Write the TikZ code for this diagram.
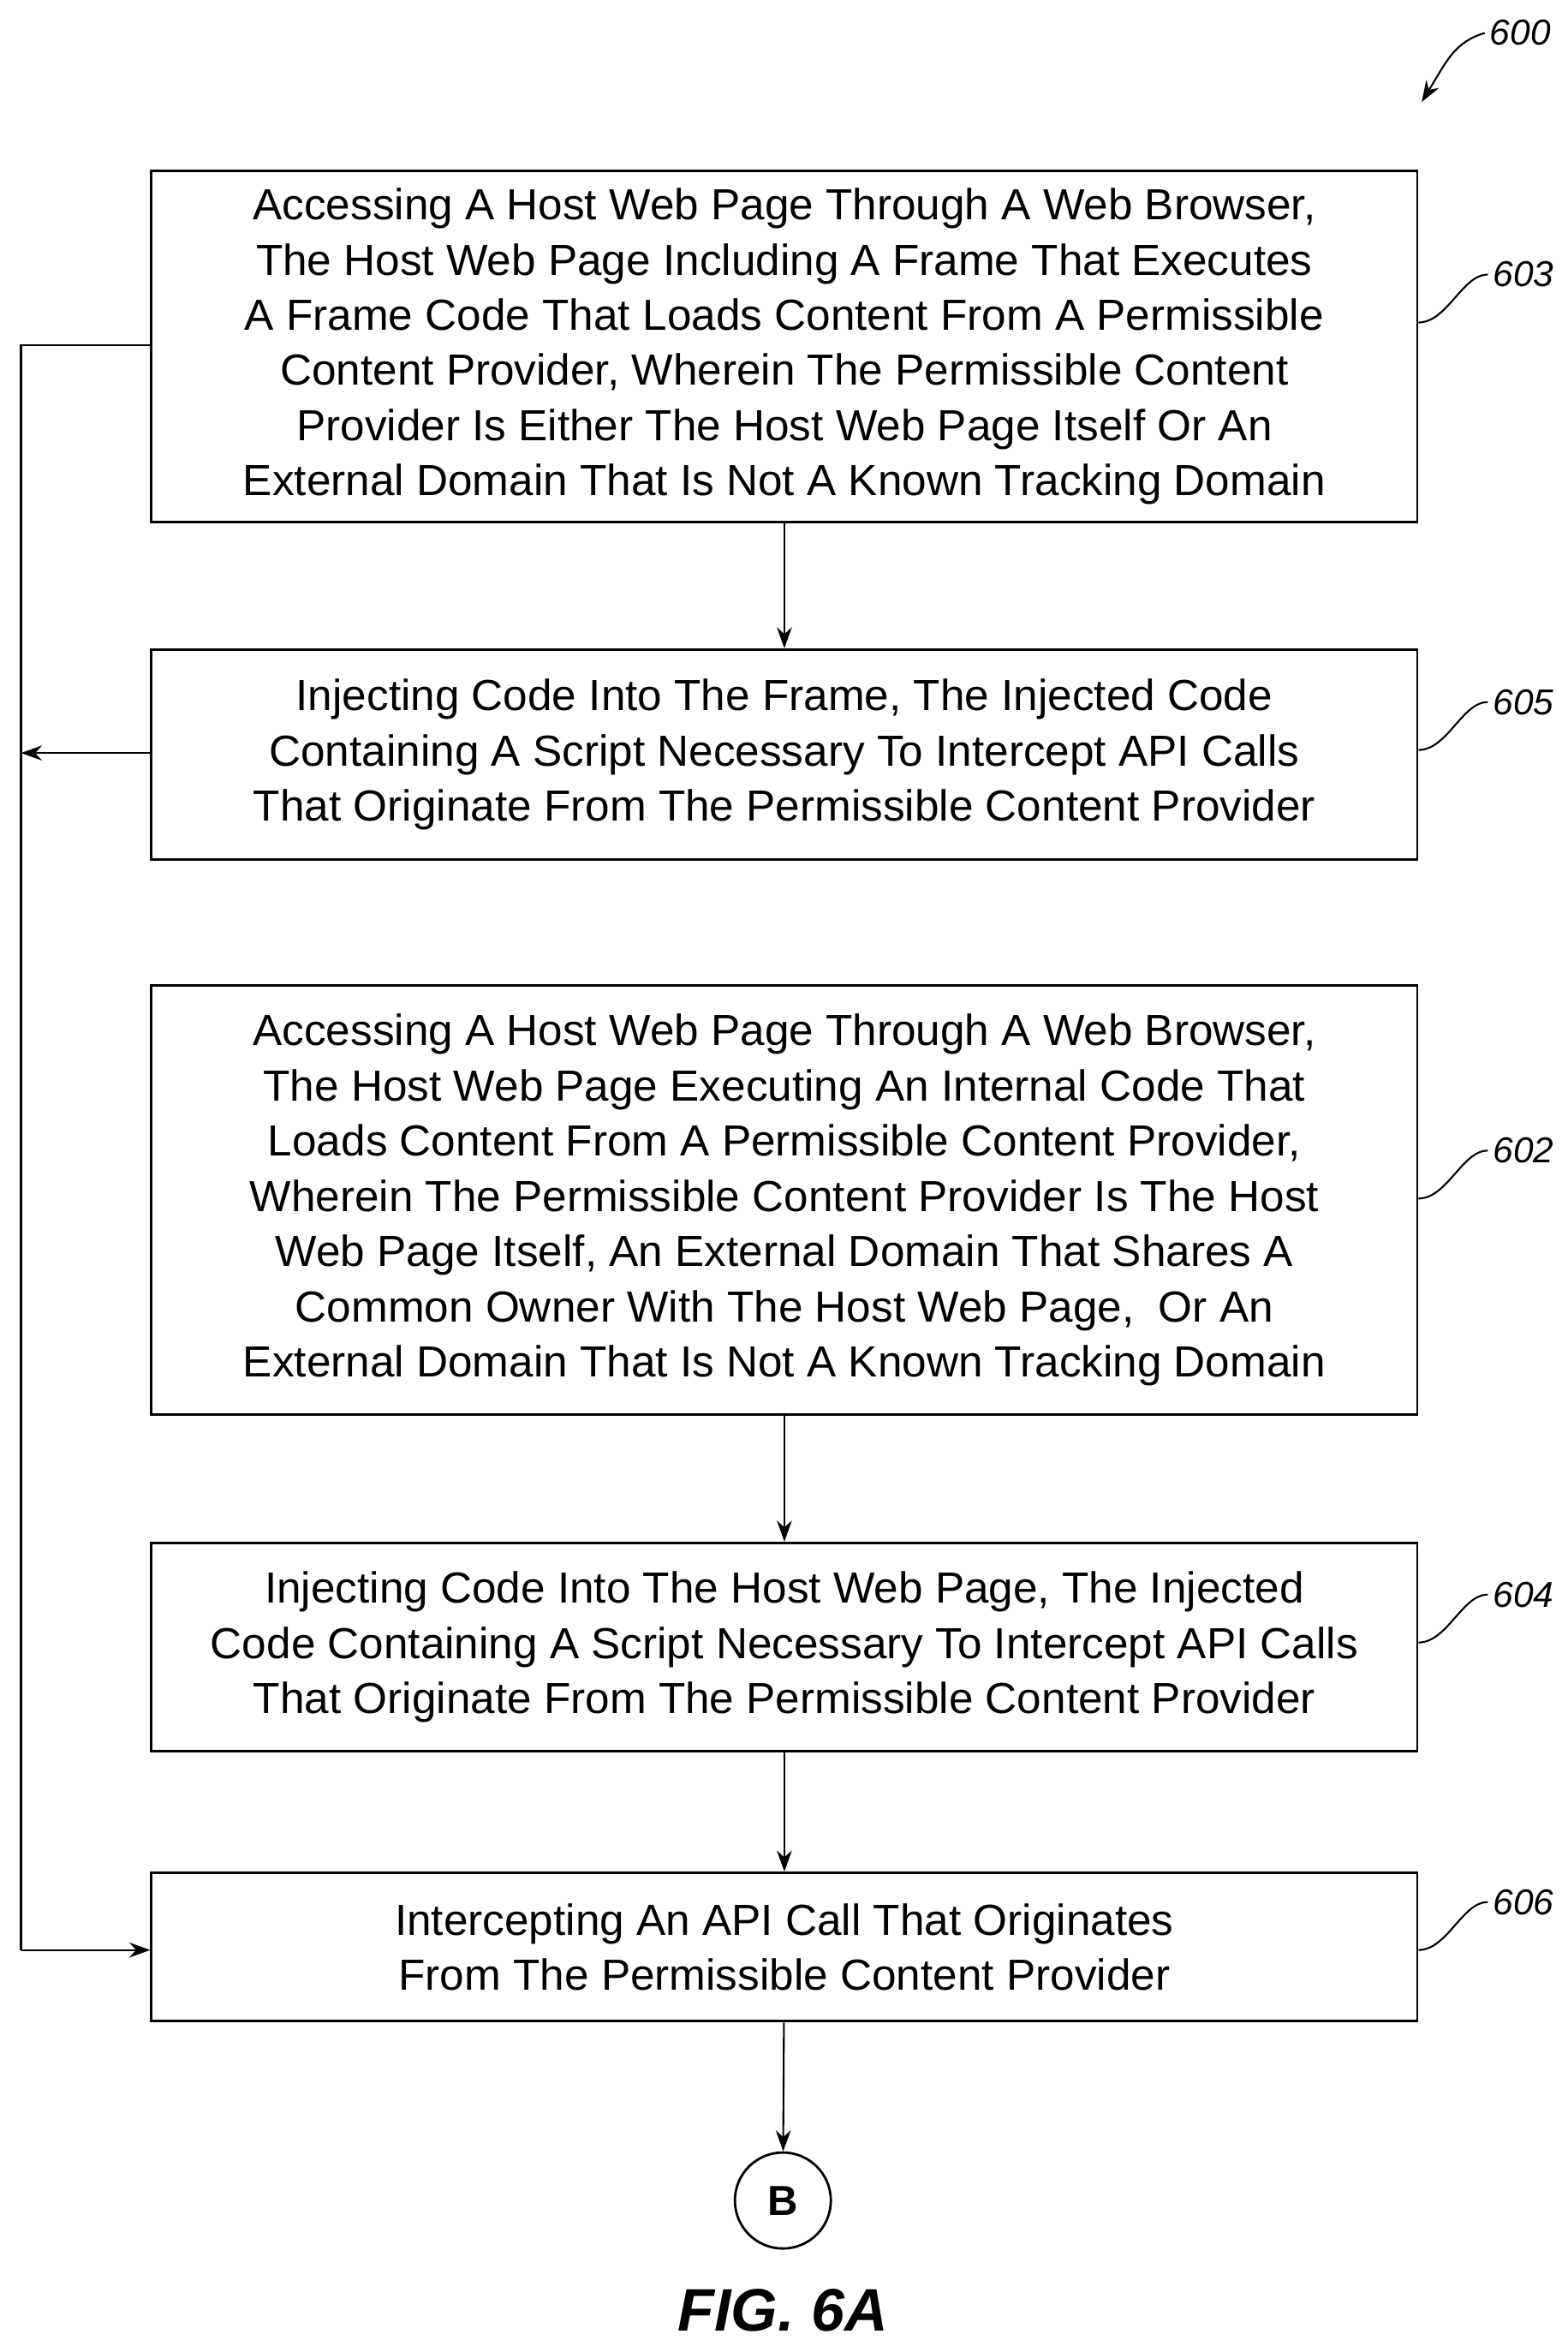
\documentclass[tikz,border=0pt]{standalone}
\usepackage{fontspec}
\setmainfont[FakeStretch=1.01]{Liberation Sans}
\newfontfamily\figfont{Liberation Sans}
\usetikzlibrary{arrows.meta}
\begin{document}
\begin{tikzpicture}[x=1pt,y=-1pt,
  box/.style={draw,line width=1.6pt,minimum width=844pt,align=center,inner sep=0pt,font=\fontsize{29}{36.8}\selectfont},
  arr/.style={line width=1.2pt,-{Stealth[length=14pt,width=10pt]}},
  lbl/.style={font=\fontsize{24}{28}\selectfont\itshape},
  lead/.style={line width=1.2pt}]
\useasboundingbox (0,0) rectangle (1045,1568);
\node[box,minimum height=234pt] (b603) at (523,231) {Accessing A Host Web Page Through A Web Browser,\\The Host Web Page Including A Frame That Executes\\A Frame Code That Loads Content From A Permissible\\Content Provider, Wherein The Permissible Content\\Provider Is Either The Host Web Page Itself Or An\\External Domain That Is Not A Known Tracking Domain};
\node[box,minimum height=140pt] (b605) at (523,503) {Injecting Code Into The Frame, The Injected Code\\Containing A Script Necessary To Intercept API Calls\\That Originate From The Permissible Content Provider};
\node[box,minimum height=286pt] (b602) at (523,800) {Accessing A Host Web Page Through A Web Browser,\\The Host Web Page Executing An Internal Code That\\Loads Content From A Permissible Content Provider,\\Wherein The Permissible Content Provider Is The Host\\Web Page Itself, An External Domain That Shares A\\Common Owner With The Host Web Page,\ \ Or An\\External Domain That Is Not A Known Tracking Domain};
\node[box,minimum height=139pt] (b604) at (523,1098) {Injecting Code Into The Host Web Page, The Injected\\Code Containing A Script Necessary To Intercept API Calls\\That Originate From The Permissible Content Provider};
\node[box,minimum height=99pt] (b606) at (523,1298) {Intercepting An API Call That Originates\\From The Permissible Content Provider};
\node[draw,circle,line width=1.6pt,minimum size=64pt,inner sep=0pt,font=\figfont\bfseries\fontsize{28}{30}\selectfont] (B) at (522,1467) {B};
\node[font=\figfont\bfseries\itshape\fontsize{40}{44}\selectfont] (fig) at (522,1540) {FIG. 6A};
\draw[arr] (b603) -- (b605);
\draw[arr] (b602) -- (b604);
\draw[arr] (b604) -- (b606);
\draw[arr] (b606) -- (B);
\coordinate (lt) at (14,230);
\coordinate (lb) at (14,1300);
\coordinate (lm) at (14,502);
\draw[line width=1.2pt] (b603.west |- lt) -- (lt) -- (lb);
\draw[arr] (lb) -- (b606.west |- lb);
\draw[arr] (b605.west |- lm) -- (lm);
\foreach \n/\y in {603/183,605/468,602/767,604/1063,606/1268}{
  \node[lbl,anchor=west] (l\n) at (992,\y) {\n};
  \draw[lead] (b\n.east |- 0,\y+32) .. controls (965,\y+32) and (975,\y) .. (l\n.west);
}
\node[lbl,anchor=west] (l600) at (990,22) {600};
\draw[arr] (l600.west) .. controls (970,28) and (965,40) .. (948,68);
\end{tikzpicture}
\end{document}
